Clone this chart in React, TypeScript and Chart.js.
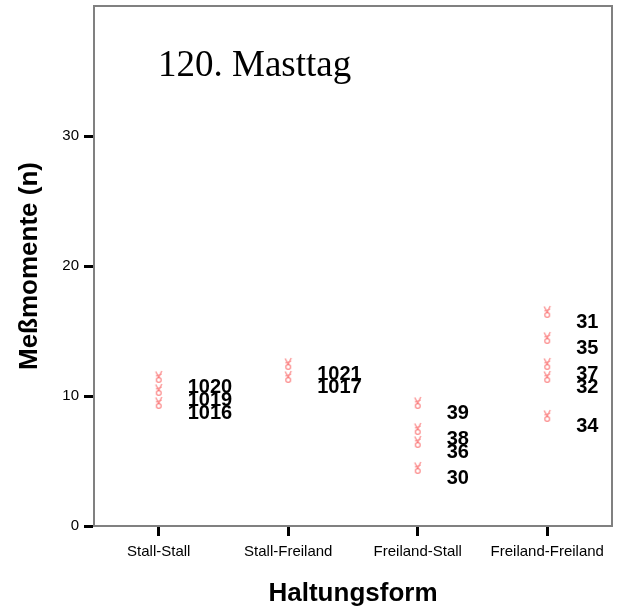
import React, { useEffect, useRef } from 'react';
import { Chart, registerables } from 'chart.js';
Chart.register(...registerables);

const categories = ['Stall-Stall', 'Stall-Freiland', 'Freiland-Stall', 'Freiland-Freiland'];
const pointGroups = [0, 0, 0, 1, 1, 2, 2, 2, 2, 3, 3, 3, 3, 3];
const pointValues = [11, 10, 9, 12, 11, 9, 7, 6, 4, 16, 14, 12, 11, 8];
const caseLabels = ['1020', '1019', '1016', '1021', '1017', '39', '38', '36', '30', '31', '35', '37', '32', '34'];
const yTickValues = [0, 10, 20, 30];
const yMin = 0;
const yMax = 40;
const chartTitle = '120. Masttag';
const xTitle = 'Haltungsform';
const yTitle = 'Meßmomente (n)';

const SANS = 'Arial, "Liberation Sans", Helvetica, sans-serif';

function makeGlyph(): HTMLCanvasElement {
  const c = document.createElement('canvas');
  c.width = 10;
  c.height = 26;
  const g = c.getContext('2d')!;
  g.strokeStyle = 'rgba(250,95,95,0.7)';
  g.lineWidth = 1.3;
  g.beginPath();
  g.arc(5, 10, 2.4, 0, Math.PI * 2);
  g.stroke();
  g.beginPath();
  g.moveTo(5, 7.6);
  g.lineTo(2, 1.5);
  g.moveTo(5, 7.6);
  g.lineTo(8, 1);
  g.moveTo(2.2, 6);
  g.lineTo(7.8, 4.2);
  g.stroke();
  return c;
}

export default function App() {
  const ref = useRef<HTMLCanvasElement | null>(null);
  useEffect(() => {
    document.body.style.margin = '0';
    const glyph = makeGlyph();
    const data = pointValues.map((v, i) => ({ x: categories[pointGroups[i]], y: v }));

    const decor = {
      id: 'decor',
      afterDatasetsDraw(chart: any) {
        const { ctx, chartArea } = chart;
        const xs = chart.scales.x;
        const ys = chart.scales.y;
        ctx.save();
        ctx.strokeStyle = '#808080';
        ctx.lineWidth = 2;
        ctx.beginPath();
        ctx.moveTo(chartArea.left, chartArea.top);
        ctx.lineTo(chartArea.right, chartArea.top);
        ctx.lineTo(chartArea.right, chartArea.bottom);
        ctx.stroke();
        ctx.fillStyle = '#000';
        ctx.font = 'bold 20px ' + SANS;
        ctx.textAlign = 'left';
        ctx.textBaseline = 'middle';
        pointValues.forEach((v, i) => {
          const px = xs.getPixelForValue(pointGroups[i]);
          const py = ys.getPixelForValue(v);
          ctx.fillText(caseLabels[i], px + 29, py + 4.5);
        });
        ctx.font = '37px "Liberation Serif", "Times New Roman", serif';
        ctx.textBaseline = 'alphabetic';
        ctx.fillText(chartTitle, chartArea.left + 64, 76);
        ctx.font = 'bold 26px ' + SANS;
        ctx.textAlign = 'center';
        ctx.textBaseline = 'middle';
        ctx.fillText(xTitle, (chartArea.left + chartArea.right) / 2, 594);
        ctx.translate(30, 266);
        ctx.rotate(-Math.PI / 2);
        ctx.fillText(yTitle, 0, 0);
        ctx.restore();
      },
    };

    const chart = new Chart(ref.current!, {
      type: 'line',
      data: {
        labels: categories,
        datasets: [
          {
            data,
            showLine: false,
            pointStyle: glyph as any,
            pointRadius: 6,
          },
        ],
      },
      options: {
        animation: false,
        responsive: false,
        layout: { autoPadding: false, padding: { top: 6, right: 9, left: 0, bottom: 0 } },
        plugins: { legend: { display: false }, tooltip: { enabled: false } },
        scales: {
          x: {
            type: 'category',
            offset: true,
            grid: {
              drawOnChartArea: false,
              drawTicks: true,
              tickLength: 10,
              tickWidth: 3,
              tickColor: '#000',
              offset: false,
            },
            border: { display: true, color: '#808080', width: 2 },
            ticks: { font: { family: SANS, size: 15 }, color: '#000', padding: 7 },
            afterFit: (s: any) => {
              s.height = 83;
              s.paddingLeft = 0;
              s.paddingRight = 0;
            },
          },
          y: {
            min: yMin,
            max: yMax,
            afterBuildTicks: (s: any) => {
              s.ticks = yTickValues.map((v) => ({ value: v }));
            },
            grid: {
              drawOnChartArea: false,
              drawTicks: true,
              tickLength: 10,
              tickWidth: 3,
              tickColor: '#000',
            },
            border: { display: true, color: '#808080', width: 2 },
            ticks: { font: { family: SANS, size: 15 }, color: '#000', padding: 5 },
            afterFit: (s: any) => {
              s.width = 94;
              s.paddingTop = 0;
              s.paddingBottom = 0;
            },
          },
        },
      },
      plugins: [decor],
    });
    return () => chart.destroy();
  }, []);
  return (
    <div style={{ width: 621, height: 609 }}>
      <canvas ref={ref} width={621} height={609} />
    </div>
  );
}
